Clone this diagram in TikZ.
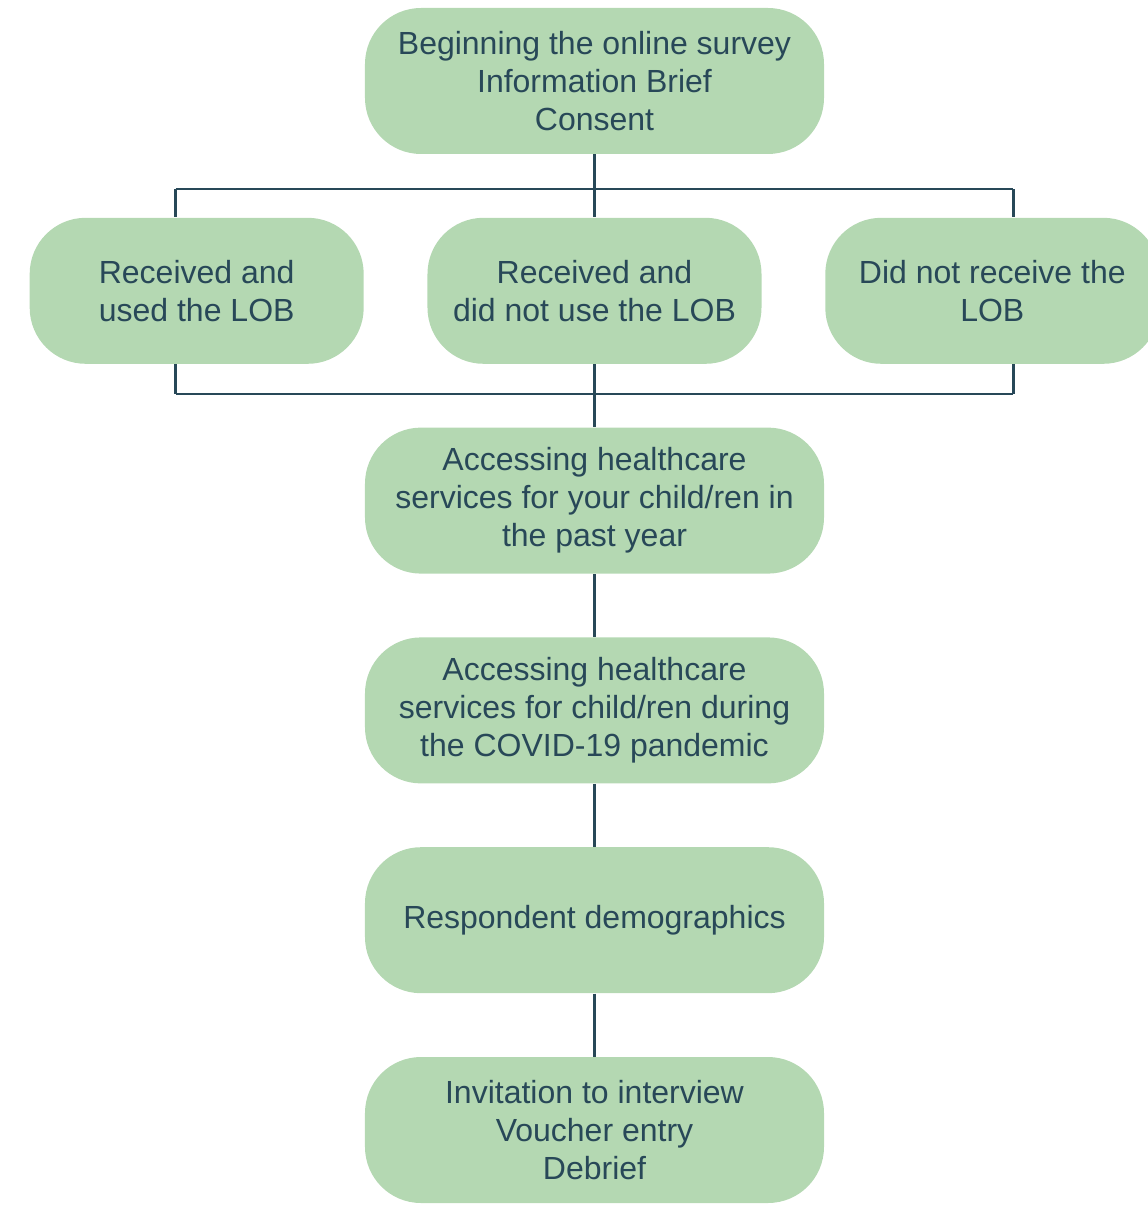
\documentclass[tikz,border=0pt]{standalone}
\usepackage{fontspec}
\setmainfont{Liberation Sans}
\usetikzlibrary{positioning,calc}
\definecolor{boxfill}{RGB}{180,216,178}
\definecolor{inkteal}{RGB}{40,72,88}
\begin{document}
\begin{tikzpicture}[
					node distance=31.5pt,
					stage/.style={rectangle, rounded corners=28pt, fill=boxfill, text=inkteal, minimum width=229.5pt, minimum height=73pt, align=center, font=\fontsize{16}{19}\selectfont},
					branch/.style={stage, minimum width=167pt},
					link/.style={draw=inkteal, line width=1.2pt}
				]
				\useasboundingbox (-297.25pt,-563.5pt) rectangle (276.25pt,40.5pt);
				\node[stage] (begin) at (0,0) {Beginning the online survey\\Information Brief\\Consent};
				\node[branch] (nolob) [below=of begin] {Received and\\did not use the LOB};
				\node[branch] (usedlob) [left=of nolob] {Received and\\used the LOB};
				\node[branch] (notrecv) [right=of nolob] {Did not receive the\\LOB};
				\node[stage] (pastyear) [below=of nolob] {Accessing healthcare\\services for your child/ren in\\the past year};
				\node[stage] (pandemic) [below=of pastyear] {Accessing healthcare\\services for child/ren during\\the COVID-19 pandemic};
				\node[stage] (demog) [below=of pandemic] {Respondent demographics};
				\node[stage] (invite) [below=of demog] {Invitation to interview\\Voucher entry\\Debrief};
				\coordinate (topbus) at ($(begin.south)!0.55!(nolob.north)$);
				\coordinate (lowbus) at ($(nolob.south)!0.47!(pastyear.north)$);
				\coordinate (topbusL) at ([xshift=-10.5pt]usedlob.north |- topbus);
				\coordinate (topbusR) at ([xshift=10.5pt]notrecv.north |- topbus);
				\coordinate (lowbusL) at ([xshift=-10.5pt]usedlob.south |- lowbus);
				\coordinate (lowbusR) at ([xshift=10.5pt]notrecv.south |- lowbus);
				\begin{scope}[link]
				\draw (begin.south) -- (nolob.north);
				\draw (topbusL) -- (topbusR);
				\draw (topbusL) -- (topbusL |- usedlob.north);
				\draw (topbusR) -- (topbusR |- notrecv.north);
				\draw (nolob.south) -- (pastyear.north);
				\draw (lowbusL) -- (lowbusR);
				\draw (lowbusL) -- (lowbusL |- usedlob.south);
				\draw (lowbusR) -- (lowbusR |- notrecv.south);
				\draw (pastyear.south) -- (pandemic.north);
				\draw (pandemic.south) -- (demog.north);
				\draw (demog.south) -- (invite.north);
				\end{scope}
				\end{tikzpicture}
\end{document}
